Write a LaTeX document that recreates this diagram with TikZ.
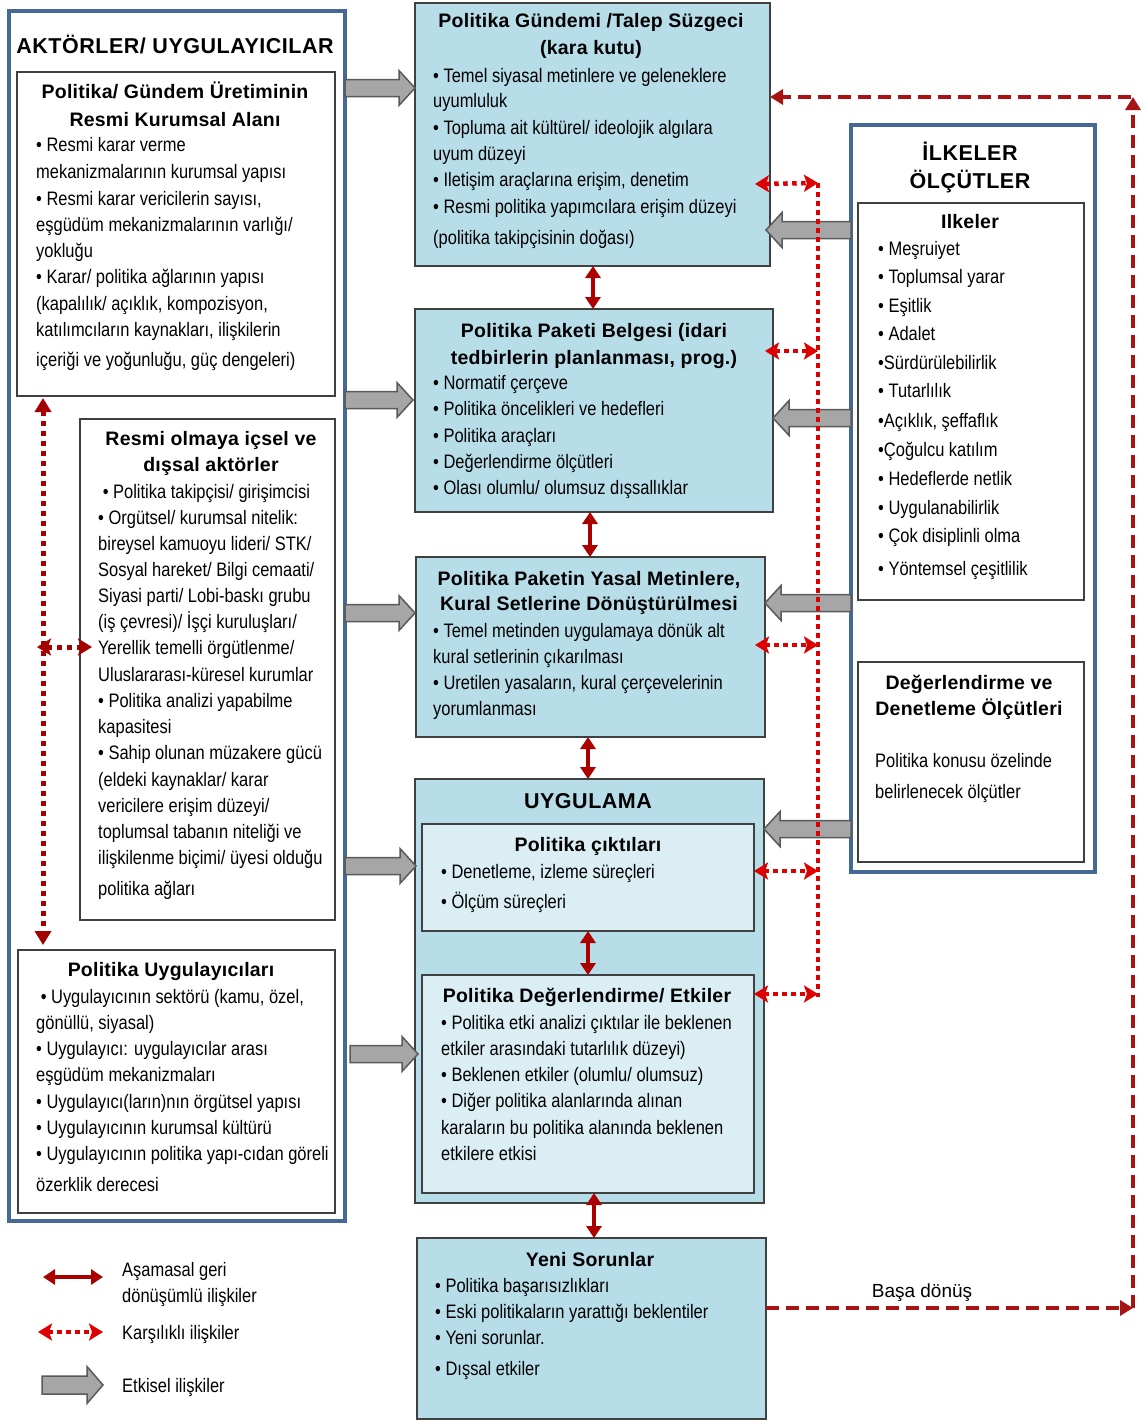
\documentclass[tikz,border=0pt]{standalone}
\usepackage{fontspec}
\setmainfont{Liberation Sans}
\newfontfamily\narrowf{Liberation Sans}[FakeStretch=0.845]
\newfontfamily\headf{Liberation Sans}[LetterSpace=1.2]
\newfontfamily\capsf{Liberation Sans}[LetterSpace=2.5]
\usetikzlibrary{arrows.meta}
\definecolor{boxblue}{RGB}{183,221,232}
\definecolor{boxlight}{RGB}{218,238,243}
\definecolor{framegray}{RGB}{64,64,64}
\definecolor{frameblue}{RGB}{70,104,150}
\definecolor{solidred}{RGB}{170,0,0}
\definecolor{dotred}{RGB}{222,0,0}
\definecolor{darkdot}{RGB}{165,0,0}
\definecolor{dashred}{RGB}{168,20,20}
\definecolor{agray}{RGB}{166,166,166}
\definecolor{agrayline}{RGB}{90,90,90}
\tikzset{
  frame/.style={draw=frameblue, line width=3.5pt, fill=white, anchor=north west, inner sep=0pt, outer sep=0pt},
  wbox/.style={draw=framegray, line width=1.5pt, fill=white, anchor=north west, inner sep=0pt, outer sep=0pt},
  bbox/.style={wbox, fill=boxblue},
  lbox/.style={wbox, fill=boxlight},
  head/.style={font=\headf\fontsize{19.5}{22}\selectfont\bfseries, inner sep=0pt, text height=16pt, text depth=2pt, anchor=center},
  capshead/.style={font=\capsf\fontsize{21.5}{24}\selectfont\bfseries, inner sep=0pt, text height=16pt, text depth=2pt, anchor=center},
  body/.style={font=\narrowf\fontsize{19.5}{22}\selectfont, inner sep=0pt, text height=16pt, text depth=2pt, anchor=west},
  plain/.style={font=\fontsize{19}{22}\selectfont, inner sep=0pt, text height=16pt, text depth=2pt, anchor=center},
  solidarr/.style={draw=solidred, line width=4pt, {Triangle[width=15pt,length=12pt]}-{Triangle[width=15pt,length=12pt]}},
  dotarr/.style={draw=dotred, line width=4.5pt, dash pattern=on 4.5pt off 4.5pt, {Stealth[width=17pt,length=14pt,inset=3pt]}-{Stealth[width=17pt,length=14pt,inset=3pt]}},
  dotline/.style={draw=dotred, line width=4.5pt, dash pattern=on 4.5pt off 4.5pt},
  leftdot/.style={draw=darkdot, line width=5pt, dash pattern=on 5pt off 5pt, {Triangle[width=16pt,length=14pt]}-{Triangle[width=16pt,length=14pt]}},
  leftdotb/.style={draw=darkdot, line width=5pt, dash pattern=on 5pt off 5pt, {Stealth[width=17pt,length=14pt,inset=3pt]}-{Stealth[width=17pt,length=14pt,inset=3pt]}},
  dasharr/.style={draw=dashred, line width=4.5pt, dash pattern=on 13pt off 7pt, -{Triangle[width=15pt,length=13pt]}},
  garrowst/.style={draw=agrayline, line width=1.5pt, fill=agray, line join=miter}
}
\newcommand\grayarrow[4]{% x1, x2, y, half shaft
  \pgfmathsetmacro\hx{#2 - 16*sign(#2-#1)}
  \pgfmathsetmacro\hh{#4*2.05}
  \draw[garrowst] (#1,#3-#4) -- (\hx,#3-#4) -- (\hx,#3-\hh) -- (#2,#3) -- (\hx,#3+\hh) -- (\hx,#3+#4) -- (#1,#3+#4) -- cycle;}
\begin{document}
\begin{tikzpicture}[x=1pt,y=-1pt]
\useasboundingbox (0,0) rectangle (1142,1421);
\fill[white] (0,0) rectangle (1142,1421);

% ---------- left column ----------
\node[frame, minimum width=336pt, minimum height=1210pt] (aktor) at (9,11) {};
\node[capshead] (aktorT) at (175,47) {AKTÖRLER/ UYGULAYICILAR};
\node[wbox, minimum width=318pt, minimum height=324pt] (a1) at (17,72) {};
\node[wbox, minimum width=255pt, minimum height=501pt] (a2) at (80,419) {};
\node[wbox, minimum width=317pt, minimum height=263pt] (a3) at (18,950) {};

\node[head] (a1h1) at (175,92) {Politika/ Gündem Üretiminin};
\node[head] (a1h2) at (175,119) {Resmi Kurumsal Alanı};
\foreach \y/\t [count=\i] in {
  144/{• Resmi karar verme},
  171/{mekanizmalarının kurumsal yapısı},
  198/{• Resmi karar vericilerin sayısı,},
  224/{eşgüdüm mekanizmalarının varlığı/},
  250/{yokluğu},
  276/{• Karar/ politika ağlarının yapısı},
  303/{(kapalılık/ açıklık, kompozisyon,},
  329/{katılımcıların  kaynakları, ilişkilerin},
  359/{içeriği ve yoğunluğu, güç dengeleri)}}
  \node[body] (a1t\i) at (36,\y) {\t};

\node[head] (a2h1) at (211,438) {Resmi olmaya içsel ve};
\node[head] (a2h2) at (211,464) {dışsal aktörler};
\foreach \y/\t [count=\i] in {
  491/{\ •  Politika takipçisi/ girişimcisi},
  517/{• Orgütsel/ kurumsal nitelik:},
  543/{bireysel kamuoyu lideri/ STK/},
  569/{Sosyal hareket/ Bilgi cemaati/},
  595/{Siyasi parti/ Lobi-baskı grubu},
  621/{(iş çevresi)/ İşçi kuruluşları/},
  647/{Yerellik temelli örgütlenme/},
  674/{Uluslararası-küresel kurumlar},
  700/{• Politika analizi yapabilme},
  726/{kapasitesi},
  752/{• Sahip olunan müzakere gücü},
  779/{(eldeki kaynaklar/ karar},
  805/{vericilere erişim düzeyi/},
  831/{toplumsal tabanın niteliği ve},
  857/{ilişkilenme biçimi/ üyesi olduğu},
  888/{politika ağları}}
  \node[body] (a2t\i) at (98,\y) {\t};

\node[head] (a3h1) at (171,969) {Politika Uygulayıcıları};
\foreach \y/\t [count=\i] in {
  996/{\ • Uygulayıcının sektörü (kamu, özel,},
  1022/{gönüllü, siyasal)},
  1048/{• Uygulayıcı: uygulayıcılar arası},
  1074/{eşgüdüm mekanizmaları},
  1101/{• Uygulayıcı(ların)nın örgütsel yapısı},
  1127/{• Uygulayıcının kurumsal kültürü},
  1153/{• Uygulayıcının politika yapı-cıdan göreli},
  1184/{özerklik derecesi}}
  \node[body] (a3t\i) at (36,\y) {\t};

% ---------- middle column ----------
\node[bbox, minimum width=355pt, minimum height=263pt] (b1) at (415,3) {};
\node[bbox, minimum width=358pt, minimum height=203pt] (b2) at (415,309) {};
\node[bbox, minimum width=349pt, minimum height=180pt] (b3) at (416,557) {};
\node[bbox, minimum width=349pt, minimum height=424pt] (b4) at (415,779) {};
\node[lbox, minimum width=332pt, minimum height=107pt] (b4a) at (422,824) {};
\node[lbox, minimum width=332pt, minimum height=218pt] (b4b) at (422,975) {};
\node[bbox, minimum width=349pt, minimum height=181pt] (b5) at (417,1238) {};

\node[head] (b1h1) at (591,21) {Politika Gündemi /Talep Süzgeci};
\node[head] (b1h2) at (591,48) {(kara kutu)};
\foreach \y/\t [count=\i] in {
  75/{• Temel siyasal metinlere ve geleneklere},
  100/{uyumluluk},
  127/{• Topluma ait kültürel/  ideolojik algılara},
  153/{uyum düzeyi},
  179/{• Iletişim araçlarına erişim,  denetim},
  206/{• Resmi politika yapımcılara erişim düzeyi},
  237/{(politika takipçisinin doğası)}}
  \node[body] (b1t\i) at (433,\y) {\t};

\node[head] (b2h1) at (594,330) {Politika Paketi Belgesi (idari};
\node[head] (b2h2) at (594,357) {tedbirlerin planlanması, prog.)};
\foreach \y/\t [count=\i] in {
  382/{• Normatif çerçeve},
  408/{• Politika öncelikleri ve hedefleri},
  435/{• Politika araçları},
  461/{• Değerlendirme ölçütleri},
  487/{• Olası olumlu/ olumsuz dışsallıklar}}
  \node[body] (b2t\i) at (433,\y) {\t};

\node[head] (b3h1) at (589,578) {Politika Paketin Yasal Metinlere,};
\node[head] (b3h2) at (589,603) {Kural Setlerine Dönüştürülmesi};
\foreach \y/\t [count=\i] in {
  630/{• Temel metinden uygulamaya dönük alt},
  656/{kural setlerinin çıkarılması},
  682/{• Uretilen yasaların, kural  çerçevelerinin},
  708/{yorumlanması}}
  \node[body] (b3t\i) at (433,\y) {\t};

\node[capshead] (b4h) at (588,801) {UYGULAMA};
\node[head] (b4ah) at (588,844) {Politika çıktıları};
\node[body] (b4at1) at (441,871) {• Denetleme, izleme süreçleri};
\node[body] (b4at2) at (441,901) {• Ölçüm süreçleri};
\node[head] (b4bh) at (587,995) {Politika Değerlendirme/ Etkiler};
\foreach \y/\t [count=\i] in {
  1022/{• Politika etki analizi çıktılar  ile beklenen},
  1048/{etkiler arasındaki tutarlılık düzeyi)},
  1074/{• Beklenen etkiler (olumlu/ olumsuz)},
  1100/{• Diğer politika alanlarında alınan},
  1127/{karaların bu politika alanında beklenen},
  1153/{etkilere etkisi}}
  \node[body] (b4bt\i) at (441,\y) {\t};

\node[head] (b5h) at (590,1259) {Yeni Sorunlar};
\foreach \y/\t [count=\i] in {
  1285/{• Politika başarısızlıkları},
  1311/{• Eski politikaların yarattığı beklentiler},
  1337/{• Yeni sorunlar.},
  1368/{• Dışsal etkiler}}
  \node[body] (b5t\i) at (435,\y) {\t};

% ---------- right column ----------
\node[frame, minimum width=244pt, minimum height=747pt] (ilke) at (851,125) {};
\node[capshead] (ilkeh1) at (970,153) {İLKELER};
\node[capshead] (ilkeh2) at (970,181) {ÖLÇÜTLER};
\node[wbox, minimum width=226pt, minimum height=397pt] (c1) at (858,203) {};
\node[wbox, minimum width=226pt, minimum height=200pt] (c2) at (858,662) {};
\node[head] (c1h) at (970,221) {Ilkeler};
\foreach \y/\t [count=\i] in {
  248/{• Meşruiyet},
  276/{• Toplumsal yarar},
  305/{• Eşitlik},
  333/{• Adalet},
  362/{•Sürdürülebilirlik},
  390/{• Tutarlılık},
  420/{•Açıklık,  şeffaflık},
  449/{•Çoğulcu katılım},
  478/{• Hedeflerde netlik},
  507/{• Uygulanabilirlik},
  535/{• Çok disiplinli olma},
  568/{• Yöntemsel çeşitlilik}}
  \node[body] (c1t\i) at (878,\y) {\t};
\node[head] (c2h1) at (969,682) {Değerlendirme ve};
\node[head] (c2h2) at (969,708) {Denetleme Ölçütleri};
\node[body] (c2t1) at (875,760) {Politika konusu özelinde};
\node[body] (c2t2) at (875,791) {belirlenecek ölçütler};

% ---------- gray influence arrows ----------
\grayarrow{345}{415}{88}{8.5}
\grayarrow{345}{413}{400}{8.5}
\grayarrow{345}{415}{613}{8.5}
\grayarrow{345}{416}{866}{8.5}
\grayarrow{350}{418}{1054}{8.5}
\grayarrow{851}{766}{230}{8.5}
\grayarrow{851}{773}{418}{8.5}
\grayarrow{851}{765}{603}{8.5}
\grayarrow{851}{764}{829}{8.5}

% ---------- solid red stage arrows ----------
\draw[solidarr] (b1.south -| 593,0) -- (b2.north -| 593,0);
\draw[solidarr] (b2.south -| 590,0) -- (b3.north -| 590,0);
\draw[solidarr] (b3.south -| 588,0) -- (b4.north -| 588,0);
\draw[solidarr] (b4a.south -| 588,0) -- (b4b.north -| 588,0);
\draw[solidarr] (b4b.south -| 594,0) -- (b5.north -| 594,0);

% ---------- dotted mutual arrows ----------
\coordinate (dtop) at (818,183);
\coordinate (dbot) at (818,997);
\draw[dotline] (dtop) -- (dbot);
\draw[dotarr] ([xshift=-15pt]b1.east |- 0,184) -- (dtop);
\draw[dotarr] ([xshift=-8pt]b2.east |- 0,351) -- (818,351);
\draw[dotarr] ([xshift=-10pt]b3.east |- 0,645) -- (818,645);
\draw[dotarr] ([xshift=-10pt]b4.east |- 0,871) -- (818,871);
\draw[dotarr] ([xshift=-10pt]b4.east |- 0,994) -- (818,994);

% left column dotted arrows
\draw[leftdot] ([yshift=-2pt]a1.south -| 43,0) -- ([yshift=5pt]a3.north -| 43,0);
\coordinate (lh) at (37,647);
\draw[leftdotb] (lh) -- ([xshift=12pt]a2.west |- 0,647);

% ---------- feedback loop ----------
\coordinate (rc1) at (1133,1308);
\coordinate (rc2) at (1133,97);
\draw[dasharr] (b5.east |- 0,1308) -- (rc1);
\draw[dasharr] (rc1) -- (rc2);
\draw[dasharr] (1131,97) -- (b1.east |- 0,97);
\node[plain] (basa) at (922,1290) {Başa dönüş};

% ---------- legend ----------
\coordinate (lg1a) at (43,1277);
\coordinate (lg1b) at (103,1277);
\draw[solidarr] (lg1a) -- (lg1b);
\coordinate (lg2a) at (38,1332);
\coordinate (lg2b) at (103,1332);
\draw[dotarr] (lg2a) -- (lg2b);
\grayarrow{42}{103}{1385}{9}
\node[body] (lgt1) at (122,1269) {Aşamasal geri};
\node[body] (lgt2) at (122,1295) {dönüşümlü ilişkiler};
\node[body] (lgt3) at (122,1332) {Karşılıklı ilişkiler};
\node[body] (lgt4) at (122,1385) {Etkisel ilişkiler};
\end{tikzpicture}
\end{document}
